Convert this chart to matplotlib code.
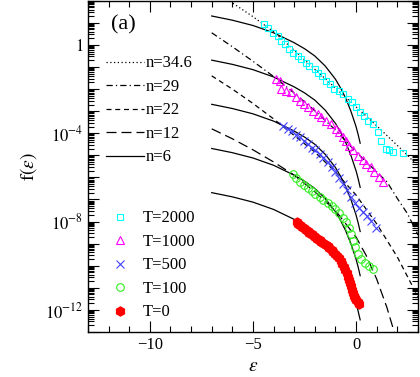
import numpy as np
import matplotlib
matplotlib.use('Agg')
import matplotlib.pyplot as plt
from matplotlib.lines import Line2D
from matplotlib.ticker import FixedLocator, FuncFormatter

plt.rcParams['font.family'] = ['Liberation Serif', 'DejaVu Serif']
plt.rcParams['mathtext.fontset'] = 'stix'

# data points: energy eps and log10 f(eps)
eps_T2000 = [-4.48, -4.27, -4.03, -3.79, -3.62, -3.46, -3.26, -3.06, -2.82, -2.66, -2.45, -2.26, -2.01,
             -1.85, -1.64, -1.45, -1.24, -1.05, -0.81, -0.65, -0.41, -0.19, 0.0, 0.21, 0.40, 0.56, 0.80,
             1.05, 1.21, 1.45, 1.61, 1.77, 2.29]
logf_T2000 = [0.93, 0.78, 0.55, 0.41, 0.18, 0.03, -0.19, -0.35, -0.50, -0.65, -0.80, -0.95, -1.10,
              -1.25, -1.40, -1.62, -1.77, -2.00, -2.07, -2.22, -2.45, -2.60, -2.83, -3.02, -3.20, -3.43, -3.58,
              -3.96, -4.33, -4.70, -4.78, -4.86, -4.90]

eps_T1000 = [-3.86, -3.71, -3.62, -3.38, -3.14, -2.90, -2.74, -2.50, -2.34, -2.10, -1.85, -1.69, -1.45,
             -1.21, -0.97, -0.81, -0.65, -0.48, -0.32, -0.16, 0.08, 0.32, 0.48, 0.72, 0.88, 1.13, 1.29]
logf_T1000 = [-1.55, -1.62, -2.00, -2.07, -2.15, -2.38, -2.53, -2.67, -2.83, -2.98, -3.13, -3.28, -3.43,
              -3.58, -3.80, -3.96, -4.18, -4.33, -4.56, -4.78, -5.01, -5.23, -5.38, -5.53, -5.76, -5.99, -6.21]

eps_T500 = [-3.55, -3.32, -3.13, -2.93, -2.74, -2.54, -2.35, -2.16, -1.97, -1.77, -1.58, -1.38, -1.19,
            -1.00, -0.81, -0.61, -0.42, -0.23, -0.03, 0.16, 0.35, 0.55, 0.74, 0.97]
logf_T500 = [-3.65, -3.79, -3.92, -4.06, -4.19, -4.33, -4.47, -4.65, -4.78, -4.96, -5.14, -5.32, -5.55,
             -5.77, -6.04, -6.31, -6.59, -6.90, -7.17, -7.40, -7.58, -7.76, -7.98, -8.30]

eps_T100 = [-3.06, -2.93, -2.74, -2.54, -2.35, -2.16, -1.97, -1.77, -1.58, -1.38, -1.19, -1.00, -0.81,
            -0.61, -0.47, -0.32, -0.23, -0.13, -0.03, 0.11, 0.26, 0.45, 0.64, 0.84]
logf_T100 = [-5.83, -6.04, -6.22, -6.36, -6.50, -6.63, -6.77, -6.90, -7.04, -7.17, -7.31, -7.44, -7.62,
             -7.85, -8.03, -8.30, -8.57, -8.89, -9.16, -9.47, -9.70, -9.88, -10.01, -10.15]

eps_T0 = [-2.88, -2.81, -2.74, -2.64, -2.54, -2.45, -2.35, -2.26, -2.16, -2.06, -1.97, -1.87, -1.77,
          -1.68, -1.58, -1.48, -1.38, -1.29, -1.19, -1.10, -1.00, -0.90, -0.81, -0.73, -0.66, -0.59,
          -0.52, -0.45, -0.37, -0.32, -0.28, -0.23, -0.18, -0.13, -0.08, -0.03, 0.01, 0.08, 0.16]
logf_T0 = [-8.03, -8.10, -8.16, -8.23, -8.30, -8.36, -8.43, -8.50, -8.57, -8.64, -8.71, -8.77, -8.84,
           -8.91, -8.98, -9.04, -9.11, -9.20, -9.29, -9.38, -9.47, -9.56, -9.65, -9.78, -9.92, -10.05,
           -10.19, -10.35, -10.51, -10.65, -10.78, -10.94, -11.10, -11.24, -11.37, -11.46, -11.55, -11.64, -11.73]

# n=6 curve shape (same for every T, shifted by two decades)
eps_n6 = [-7.0, -6.0, -5.0, -4.0, -3.0, -2.5, -2.0, -1.5, -1.0, -0.75, -0.5, -0.25, 0.0, 0.1, 0.2]
logf_n6 = [1.31, 1.12, 0.88, 0.55, 0.10, -0.17, -0.50, -0.95, -1.55, -1.95, -2.42, -3.00, -3.70, -4.05, -4.45]
shift_n6 = [0, -2, -4, -6, -8]

eps_n34 = [-6.12, -5.0, -4.0, -3.0, -2.0, -1.0, 0.0, 1.0, 2.0, 2.5, 3.0]
logf_n34 = [1.98, 1.28, 0.60, -0.24, -1.10, -1.95, -2.80, -3.66, -4.55, -5.00, -5.50]

eps_n29 = [-7.0, -6.0, -5.0, -4.0, -3.0, -2.0, -1.0, 0.0, 1.0, 1.5, 2.0, 2.5, 3.0]
logf_n29 = [0.55, -0.08, -0.74, -1.43, -2.18, -2.98, -3.85, -4.85, -5.75, -6.20, -6.95, -7.65, -8.60]

eps_n22 = [-7.0, -6.0, -5.0, -4.0, -3.0, -2.0, -1.0, 0.0, 1.0, 2.0, 3.0]
logf_n22 = [-1.40, -2.0, -2.65, -3.35, -4.10, -4.85, -5.75, -6.80, -8.10, -9.60, -11.4]

eps_n12 = [-7.0, -6.0, -5.0, -4.0, -3.0, -2.0, -1.0, 0.0, 0.5, 1.0, 1.5, 1.85]
logf_n12 = [-3.80, -4.25, -4.75, -5.30, -5.90, -6.65, -7.50, -8.70, -9.55, -10.6, -11.9, -13.0]

fig = plt.figure(figsize=(4.2, 3.77), dpi=100)
ax = fig.add_axes([0.2095, 0.1194, 0.7855, 0.8786])

lw = 0.9
ax.plot(eps_n34, 10 ** np.array(logf_n34), color='black', lw=lw, dashes=(1, 2))
ax.plot(eps_n29, 10 ** np.array(logf_n29), color='black', lw=lw, dashes=(5, 2.5, 1, 2.5))
ax.plot(eps_n22, 10 ** np.array(logf_n22), color='black', lw=lw, dashes=(4, 3))
ax.plot(eps_n12, 10 ** np.array(logf_n12), color='black', lw=lw, dashes=(8, 4))
for s in shift_n6:
    ax.plot(eps_n6, 10 ** (np.array(logf_n6) + s), color='black', lw=lw)

ax.plot(eps_T2000, 10 ** np.array(logf_T2000), ls='None', marker='s', ms=5, mfc='none', mec='cyan', mew=0.8)
ax.plot(eps_T1000, 10 ** np.array(logf_T1000), ls='None', marker='^', ms=5.5, mfc='none', mec='magenta', mew=0.8)
ax.plot(eps_T500, 10 ** np.array(logf_T500), ls='None', marker='x', ms=5.5, color='#4040ff', mew=0.8)
ax.plot(eps_T100, 10 ** np.array(logf_T100), ls='None', marker='o', ms=5.5, mfc='none', mec='#33ee22', mew=0.8)
ax.plot(eps_T0, 10 ** np.array(logf_T0), ls='None', marker='h', ms=6.5, color='red', mec='red')

ax.set_yscale('log')
ax.set_xlim(-13, 3)
ax.set_ylim(1e-13, 1e2)

ax.xaxis.set_major_locator(FixedLocator([-10, -5, 0]))
ax.xaxis.set_minor_locator(FixedLocator(np.arange(-13, 4, 1)))
ax.set_xticklabels(['\u221210', '\u22125', '0'])
dec = np.arange(-13, 3)
ax.yaxis.set_major_locator(FixedLocator(10.0 ** dec))
ax.yaxis.set_minor_locator(FixedLocator([m * 10.0 ** d for d in dec for m in range(2, 10)]))
lab = {0: '$1$', -4: '$10^{-4}$', -8: '$10^{-8}$', -12: '$10^{-12}$'}
ax.yaxis.set_major_formatter(FuncFormatter(lambda v, p: lab.get(int(round(np.log10(v))), '')))
ax.tick_params(which='both', direction='in', top=True, right=True, labelsize=12, width=0.8)
ax.tick_params(which='major', length=8)
ax.tick_params(which='minor', length=4)
for sp in ax.spines.values():
    sp.set_linewidth(1.0)

ax.set_xlabel(r'$\epsilon$', fontsize=14, labelpad=4)
ax.set_ylabel(r'$\mathrm{f}(\epsilon)$', fontsize=14)
ax.text(0.07, 0.955, '(a)', transform=ax.transAxes, fontsize=16, va='top')

h1 = [Line2D([], [], color='black', lw=lw, dashes=(1, 2)),
      Line2D([], [], color='black', lw=lw, dashes=(5, 2.5, 1, 2.5)),
      Line2D([], [], color='black', lw=lw, dashes=(4, 3)),
      Line2D([], [], color='black', lw=lw, dashes=(8, 4)),
      Line2D([], [], color='black', lw=lw)]
leg1 = ax.legend(h1, ['n=34.6', 'n=29', 'n=22', 'n=12', 'n=6'], loc='upper left',
                 bbox_to_anchor=(0.055, 0.835), frameon=False, fontsize=12, handlelength=2.3,
                 handletextpad=0.1, labelspacing=0.45, borderpad=0, borderaxespad=0)
ax.add_artist(leg1)

h2 = [Line2D([], [], ls='None', marker='s', ms=5, mfc='none', mec='cyan', mew=0.8),
      Line2D([], [], ls='None', marker='^', ms=5.5, mfc='none', mec='magenta', mew=0.8),
      Line2D([], [], ls='None', marker='x', ms=5.5, color='#4040ff', mew=0.8),
      Line2D([], [], ls='None', marker='o', ms=5.5, mfc='none', mec='#33ee22', mew=0.8),
      Line2D([], [], ls='None', marker='h', ms=6.5, color='red')]
ax.legend(h2, ['T=2000', 'T=1000', 'T=500', 'T=100', 'T=0'], loc='upper left',
          bbox_to_anchor=(0.06, 0.367), frameon=False, fontsize=12, handlelength=1.5,
          handletextpad=0.6, labelspacing=0.45, borderpad=0, borderaxespad=0)

fig.savefig('out.png', dpi=100)
